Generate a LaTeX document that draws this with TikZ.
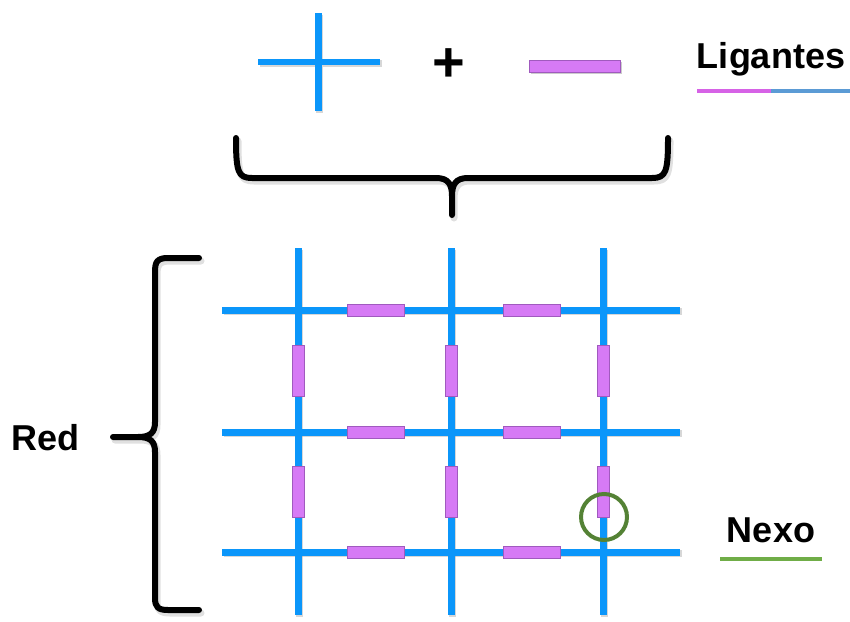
\documentclass[tikz,border=0pt]{standalone}
\usepackage{fontspec}
\setmainfont{Liberation Sans}
\definecolor{bondblue}{RGB}{11,150,250}
\definecolor{linkerpurple}{RGB}{214,122,245}
\definecolor{linkeredge}{RGB}{160,90,190}
\definecolor{ligpurple}{RGB}{214,98,230}
\definecolor{ligblue}{RGB}{91,155,213}
\definecolor{nexodark}{RGB}{84,130,53}
\definecolor{nexolight}{RGB}{112,173,71}
\begin{document}
\begin{tikzpicture}[x=1pt,y=-1pt,
  bond/.style={draw=bondblue, line width=7pt},
  bondshadow/.style={draw=black!45, line width=7pt, opacity=0.35},
  linker/.style={fill=linkerpurple, draw=linkeredge, line width=0.6pt},
  brace/.style={draw=black, line width=6pt, line cap=round, line join=round},
  braceshadow/.style={draw=black!40, line width=7pt, line cap=round, line join=round, opacity=0.3},
  label/.style={font=\fontsize{36}{40}\selectfont\bfseries, anchor=base, inner sep=0pt}
]
\useasboundingbox (0,0) rectangle (850,621);

% building blocks: node cross plus linker
\draw[bondshadow] (259.5,63.5) -- (381.5,63.5) (319.5,14.5) -- (319.5,112.5);
\draw[bond, line width=6pt] (258,62) -- (380,62);
\draw[bond] (318,13) -- (318,111);
\node[font=\fontsize{56}{60}\selectfont\bfseries, inner sep=0pt] (plus) at (449,65) {+};
\fill[black!50, opacity=0.4] (530.5,61.5) rectangle (621.5,73.5);
\path[linker] (529,60) rectangle (620,72);

\node[label] (lig) at (771,68) {Ligantes};
\draw[line width=4pt, ligpurple] (697,91) -- (771,91);
\draw[line width=4pt, ligblue] (771,91) -- (850,91);

% upper brace
\draw[braceshadow, xshift=2pt, yshift=-3pt]
  (236,138) .. controls (236,172) and (238,178) .. (252,178) -- (436,178)
  .. controls (448,178) and (452,184) .. (452,196) -- (452,215)
  (452,196) .. controls (452,184) and (456,178) .. (468,178) -- (652,178)
  .. controls (666,178) and (668,172) .. (668,138);
\draw[brace]
  (236,138) .. controls (236,172) and (238,178) .. (252,178) -- (436,178)
  .. controls (448,178) and (452,184) .. (452,196) -- (452,215)
  (452,196) .. controls (452,184) and (456,178) .. (468,178) -- (652,178)
  .. controls (666,178) and (668,172) .. (668,138);

% left brace
\draw[braceshadow, xshift=2pt, yshift=-3pt]
  (199,258) -- (168,258) .. controls (157,258) and (155,262) .. (155,272) -- (155,422)
  .. controls (155,433) and (150,437) .. (138,437) -- (113,437)
  (138,437) .. controls (150,437) and (155,441) .. (155,452) -- (155,598)
  .. controls (155,607) and (158,610) .. (168,610) -- (199,610);
\draw[brace]
  (199,258) -- (168,258) .. controls (157,258) and (155,262) .. (155,272) -- (155,422)
  .. controls (155,433) and (150,437) .. (138,437) -- (113,437)
  (138,437) .. controls (150,437) and (155,441) .. (155,452) -- (155,598)
  .. controls (155,607) and (158,610) .. (168,610) -- (199,610);
\node[label] (red) at (45.5,450) {Red};

% network lattice
\foreach \yy in {310,432,552} {
  \draw[bondshadow] (223.5,\yy+1.5) -- (681.5,\yy+1.5);
}
\foreach \xx in {298,451,603} {
  \draw[bondshadow] (\xx+1.5,249.5) -- (\xx+1.5,616.5);
}
\foreach \yy in {310,432,552} {
  \draw[bond] (222,\yy) -- (680,\yy);
}
\foreach \xx in {298,451,603} {
  \draw[bond] (\xx,248) -- (\xx,615);
}
% linkers along the rows
\foreach \yy in {310,432,552} {
  \foreach \xa in {347,503} {
    \path[linker] (\xa,\yy-6) rectangle (\xa+57,\yy+6);
  }
}
% linkers along the columns
\foreach \xx in {298,451,603} {
  \foreach \ya in {345,466} {
    \path[linker] (\xx-6,\ya) rectangle (\xx+6,\ya+51);
  }
}

% highlighted junction
\draw[line width=4pt, nexodark] (604,517) circle[radius=23];
\node[label] (nexo) at (771,542) {Nexo};
\draw[line width=4pt, nexolight] (720,559) -- (822,559);
\end{tikzpicture}
\end{document}
